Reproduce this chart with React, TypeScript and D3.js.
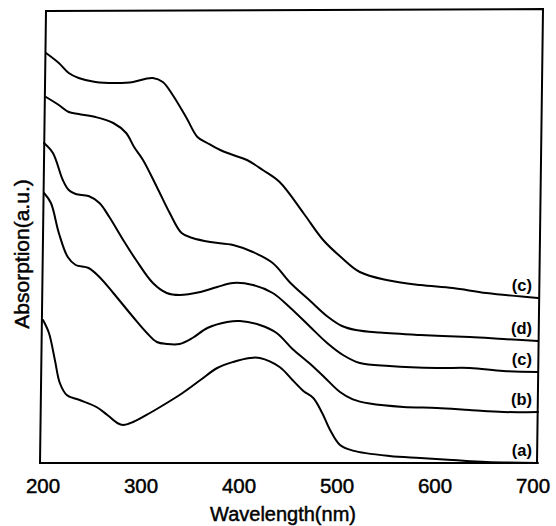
import React from "react";
import * as d3 from "d3";

const W = 556;
const H = 526;

// [wavelength (nm), absorption (a.u.)]
const curveA: [number, number][] = [
  [200, 0.715], [206, 0.65], [212, 0.515], [217, 0.4], [224, 0.34], [237, 0.315],
  [254, 0.28], [265, 0.24], [275, 0.2], [281, 0.19], [291, 0.205], [308, 0.25],
  [325, 0.3], [341, 0.35], [359, 0.415], [376, 0.475], [392, 0.505], [409, 0.525],
  [419, 0.525], [439, 0.48], [452, 0.415], [463, 0.36], [473, 0.325], [482, 0.25],
  [490, 0.165], [500, 0.09], [513, 0.062], [550, 0.035], [581, 0.025], [614, 0.015],
  [648, 0.005], [700, 0.0],
];

const curveB: [number, number][] = [
  [201, 1.35], [208, 1.3], [216, 1.15], [225, 1.03], [233, 0.99], [246, 0.975],
  [257, 0.93], [271, 0.85], [291, 0.73], [305, 0.65], [315, 0.605], [325, 0.595],
  [338, 0.595], [351, 0.625], [366, 0.675], [386, 0.705], [399, 0.71], [419, 0.69],
  [436, 0.65], [452, 0.57], [470, 0.495], [485, 0.425], [500, 0.355], [513, 0.318],
  [530, 0.297], [564, 0.28], [598, 0.275], [631, 0.265], [665, 0.255], [700, 0.255],
];

const curveC: [number, number][] = [
  [201, 1.6], [210, 1.55], [220, 1.415], [226, 1.365], [233, 1.345], [246, 1.335],
  [257, 1.3], [267, 1.23], [281, 1.115], [294, 1.015], [311, 0.9], [325, 0.85],
  [338, 0.84], [359, 0.855], [376, 0.88], [392, 0.9], [412, 0.89], [432, 0.85],
  [450, 0.775], [470, 0.68], [487, 0.6], [503, 0.54], [520, 0.5], [550, 0.485],
  [598, 0.475], [631, 0.475], [665, 0.46], [700, 0.455],
];

const curveD: [number, number][] = [
  [203, 1.83], [216, 1.79], [226, 1.755], [236, 1.745], [253, 1.73], [271, 1.7],
  [284, 1.65], [292, 1.58], [301, 1.515], [315, 1.38], [328, 1.25], [340, 1.15],
  [351, 1.125], [369, 1.105], [392, 1.09], [412, 1.055], [432, 1.0], [450, 0.9],
  [470, 0.81], [488, 0.73], [502, 0.685], [516, 0.665], [540, 0.652], [581, 0.64],
  [631, 0.63], [665, 0.62], [700, 0.61],
];

const curveE: [number, number][] = [
  [203, 2.05], [216, 2.0], [226, 1.95], [236, 1.925], [253, 1.905], [274, 1.9],
  [291, 1.905], [303, 1.92], [311, 1.925], [321, 1.905], [331, 1.84], [345, 1.725],
  [356, 1.63], [366, 1.6], [379, 1.565], [392, 1.54], [406, 1.515], [422, 1.465],
  [439, 1.405], [463, 1.25], [483, 1.115], [502, 1.025], [520, 0.955], [547, 0.915],
  [581, 0.89], [614, 0.875], [648, 0.85], [700, 0.825],
];

const seriesList = [curveA, curveB, curveC, curveD, curveE];
const seriesLabels = ["(a)", "(b)", "(c)", "(d)", "(c)"];
const xTicks = [200, 300, 400, 500, 600, 700];

const xTitle = "Wavelength(nm)";
const yTitle = "Absorption(a.u.)";

const FONT = "'Liberation Sans', Arial, Helvetica, sans-serif";

export default function App() {
  const x = d3.scaleLinear().domain([200, 700]).range([43, 538]);
  const xLabel = d3.scaleLinear().domain([200, 700]).range([43, 533]);
  const y = d3.scaleLinear().domain([0, 2.26]).range([463, 11]);

  const line = d3
    .line<[number, number]>()
    .x((d) => x(d[0]))
    .y((d) => y(d[1]))
    .curve(d3.curveCatmullRom.alpha(0.5));

  const frame = "M46,11 L543,9 L537,463 L40,463 Z";

  return (
    <div style={{ position: "absolute", left: 0, top: 0 }}>
      <svg width={W} height={H} viewBox={`0 0 ${W} ${H}`} style={{ display: "block", background: "#fff" }}>
        <rect x={0} y={0} width={W} height={H} fill="#fff" />
        <path d={frame} fill="none" stroke="#000" strokeWidth={2} strokeLinejoin="miter" />
        {seriesList.map((s, i) => (
          <path key={i} d={line(s) || ""} fill="none" stroke="#000" strokeWidth={2} strokeLinejoin="round" strokeLinecap="round" />
        ))}
        {seriesList.map((s, i) => (
          <text
            key={"l" + i}
            x={532}
            y={y(s[s.length - 1][1]) - 7}
            textAnchor="end"
            fontFamily={FONT}
            fontWeight="bold"
            fontSize={16.5}
            fill="#000"
          >
            {seriesLabels[i]}
          </text>
        ))}
        <g fontFamily={FONT} fill="#000" stroke="#000" strokeWidth={0.45}>
          {xTicks.map((t) => (
            <text key={t} x={xLabel(t)} y={493} textAnchor="middle" fontSize={20.5}>
              {t}
            </text>
          ))}
          <text x={283} y={521} textAnchor="middle" fontSize={20}>
            {xTitle}
          </text>
          <text transform={`translate(29,254) rotate(-90)`} textAnchor="middle" fontSize={21}>
            {yTitle}
          </text>
        </g>
      </svg>
    </div>
  );
}
